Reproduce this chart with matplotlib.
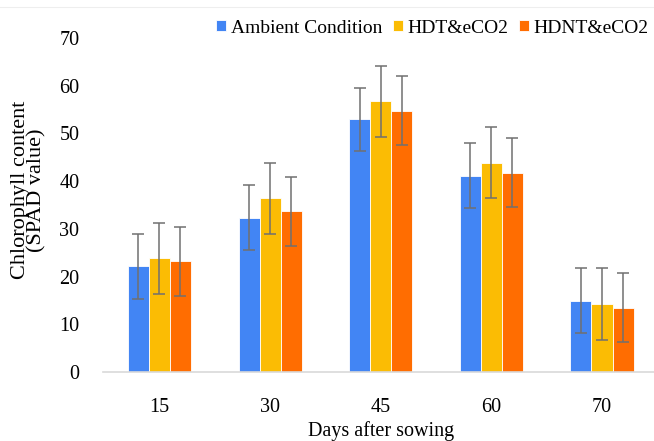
import numpy as np
import matplotlib
matplotlib.use('Agg')
import matplotlib.pyplot as plt
from matplotlib.lines import Line2D

days = ['15', '30', '45', '60', '70']
series_names = ['Ambient Condition', 'HDT&eCO2', 'HDNT&eCO2']

ambient = [22.2, 32.3, 53.0, 41.1, 14.9]
hdt = [23.8, 36.4, 56.7, 43.9, 14.2]
hdnt = [23.2, 33.7, 54.8, 41.8, 13.5]

ambient_err = [6.8, 6.8, 6.6, 6.8, 6.8]
hdt_err = [7.5, 7.4, 7.5, 7.5, 7.5]
hdnt_err = [7.2, 7.2, 7.3, 7.2, 7.3]

colors = ['#4285F4', '#FBBC04', '#FF6D01']

plt.rcParams['font.family'] = ['Liberation Serif', 'DejaVu Serif']

fig = plt.figure(figsize=(6.54, 4.41), dpi=100)
ax = fig.add_axes([0.1575, 0.1565, 0.8425, 0.7573])

x = np.arange(len(days))
width = 0.19
values = [ambient, hdt, hdnt]
errors = [ambient_err, hdt_err, hdnt_err]

for i, (vals, errs) in enumerate(zip(values, errors)):
    ax.bar(x + (i - 1) * width, vals, width, color=colors[i],
           edgecolor='white', linewidth=0.6, label=series_names[i], zorder=2)
    ax.errorbar(x + (i - 1) * width, vals, yerr=errs, fmt='none',
                ecolor='#707070', elinewidth=1.1, capsize=4, capthick=1.1, zorder=3)

ax.set_xlim(-0.51, 4.47)
ax.set_ylim(0, 70)
ax.set_yticks(range(0, 71, 10))
ax.set_xticks(x)
ax.set_xticklabels(days)
ax.tick_params(axis='both', length=0, labelsize=14.5)
ax.tick_params(axis='y', pad=17)
ax.tick_params(axis='x', pad=19)

for s in ['top', 'right', 'left']:
    ax.spines[s].set_visible(False)
ax.spines['bottom'].set_color('#d9d9d9')
ax.spines['bottom'].set_linewidth(1.2)

ax.set_ylabel('Chlorophyll content\n(SPAD value)', fontsize=16, linespacing=0.85)
ax.yaxis.set_label_coords(-0.102, 0.545)
ax.set_xlabel('Days after sowing', fontsize=14.5)
ax.xaxis.set_label_coords(0.505, -0.147)

ax.legend(loc='center right', bbox_to_anchor=(0.992, 0.9365), bbox_transform=fig.transFigure,
          ncol=3, frameon=False, fontsize=14, handlelength=0.5, handleheight=0.5,
          handletextpad=0.25, columnspacing=0.55, borderaxespad=0, borderpad=0)

fig.add_artist(Line2D([0, 1], [0.984, 0.984], transform=fig.transFigure,
                      color='#eeeeee', linewidth=0.8))

fig.savefig('out.png', dpi=100)
